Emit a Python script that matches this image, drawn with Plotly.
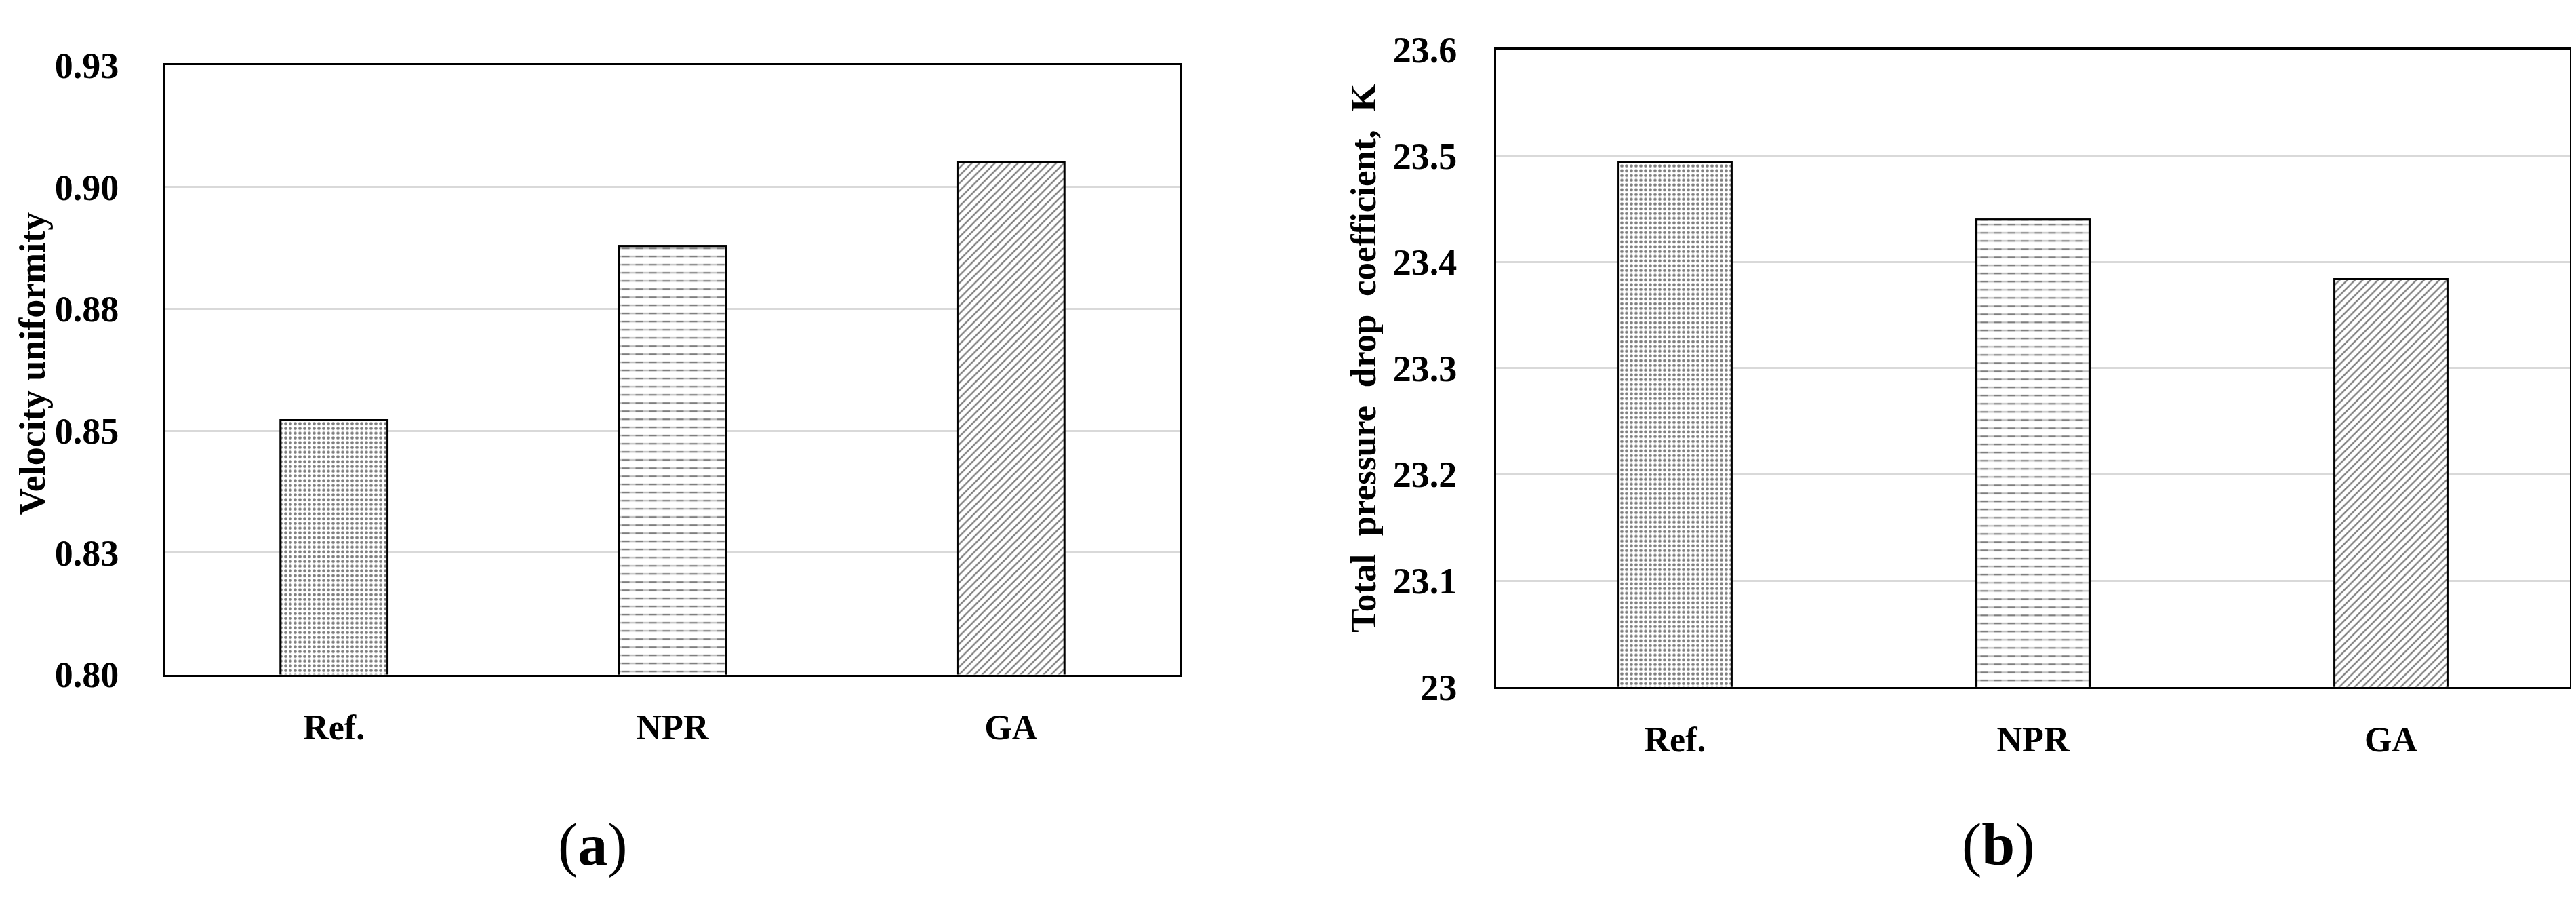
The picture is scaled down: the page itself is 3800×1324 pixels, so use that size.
import plotly.graph_objects as go

W, H = 3800, 1324

categories = ["Ref.", "NPR", "GA"]
velocity_uniformity = [0.8522, 0.8879, 0.9051]
pressure_drop_coeff = [23.4945, 23.440, 23.384]

a_tickvals = [0.80, 0.825, 0.85, 0.875, 0.90, 0.925]
a_ticktext = ["0.80", "0.83", "0.85", "0.88", "0.90", "0.93"]
b_tickvals = [23.0, 23.1, 23.2, 23.3, 23.4, 23.5, 23.6]
b_ticktext = ["23", "23.1", "23.2", "23.3", "23.4", "23.5", "23.6"]

patterns = [".", "-", "/"]
pattern_sizes = [7, 12, 8]
pattern_solidity = [0.35, 0.2, 0.3]

SERIF = "Liberation Serif, Times New Roman, serif"


def dash_breaker(values):
    # white vertical stripes over the NPR bar only, to turn its lines into dashes
    return [v if c == "NPR" else None for c, v in zip(categories, values)]


fig = go.Figure()

for xa, ya, vals in (("x", "y", velocity_uniformity), ("x2", "y2", pressure_drop_coeff)):
    fig.add_trace(go.Bar(
        x=categories, y=vals, xaxis=xa, yaxis=ya,
        marker=dict(color="white", line=dict(color="black", width=3),
                    pattern=dict(shape=patterns, fgcolor="black", bgcolor="white",
                                 size=pattern_sizes, solidity=pattern_solidity)),
        showlegend=False, hoverinfo="x+y",
    ))
    fig.add_trace(go.Bar(
        x=categories, y=dash_breaker(vals), xaxis=xa, yaxis=ya,
        marker=dict(color="rgba(0,0,0,0)", line=dict(color="black", width=3),
                    pattern=dict(shape="|", fgcolor="white", bgcolor="rgba(0,0,0,0)",
                                 size=20, solidity=0.45, fillmode="overlay")),
        showlegend=False, hoverinfo="skip",
    ))

ytickfont = dict(family=SERIF, size=54, color="black", weight="bold")
xtickfont = dict(family=SERIF, size=52, color="black", weight="bold")

common_x = dict(showline=True, linecolor="black", linewidth=3, mirror=True,
                showgrid=False, ticks="", tickfont=xtickfont, ticklabelstandoff=30,
                fixedrange=True)
common_y = dict(showline=True, linecolor="black", linewidth=3, mirror=True,
                showgrid=True, gridcolor="#d9d9d9", gridwidth=3, ticks="",
                tickfont=ytickfont, zeroline=False, fixedrange=True)

fig.update_layout(
    width=W, height=H,
    margin=dict(l=0, r=0, t=0, b=0),
    paper_bgcolor="white", plot_bgcolor="white",
    barmode="overlay",
    bargap=0.684,
    xaxis=dict(domain=[235 / W, 1733 / W], anchor="y", **common_x),
    yaxis=dict(domain=[1 - 1003 / H, 1 - 62 / H], anchor="x",
               range=[0.80, 0.925], tickvals=a_tickvals, ticktext=a_ticktext,
               ticklabelstandoff=54, **common_y),
    xaxis2=dict(domain=[2199 / W, 3783 / W], anchor="y2", **common_x),
    yaxis2=dict(domain=[1 - 1022 / H, 1 - 38 / H], anchor="x2",
                range=[23.0, 23.6], tickvals=b_tickvals, ticktext=b_ticktext,
                ticklabelstandoff=44, **common_y),
    annotations=[
        dict(text="<b>Velocity uniformity</b>", x=40 / W, y=1 - 523 / H,
             xref="paper", yref="paper", textangle=-90, showarrow=False,
             xanchor="center", yanchor="middle",
             font=dict(family=SERIF, size=54, color="black")),
        dict(text="<b>Total  pressure  drop  coefficient,  K</b>", x=2003 / W, y=1 - 515 / H,
             xref="paper", yref="paper", textangle=-90, showarrow=False,
             xanchor="center", yanchor="middle",
             font=dict(family=SERIF, size=53, color="black")),
        dict(text="(<b>a</b>)", x=866 / W, y=1 - 1266 / H,
             xref="paper", yref="paper", showarrow=False,
             xanchor="center", yanchor="middle",
             font=dict(family=SERIF, size=88, color="black")),
        dict(text="(<b>b</b>)", x=2940 / W, y=1 - 1266 / H,
             xref="paper", yref="paper", showarrow=False,
             xanchor="center", yanchor="middle",
             font=dict(family=SERIF, size=88, color="black")),
    ],
)

fig.write_html("out.html")
